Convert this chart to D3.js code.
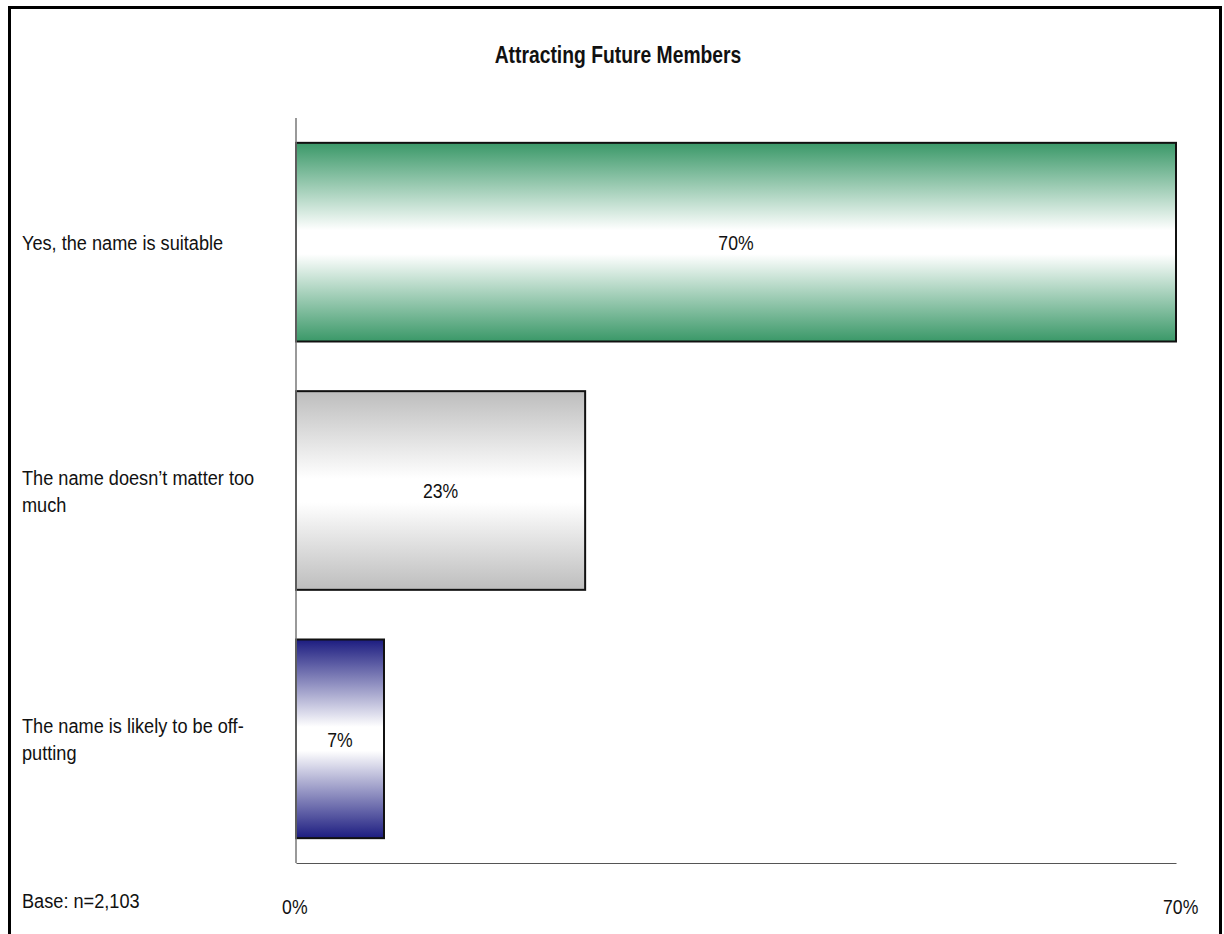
<!DOCTYPE html>
<html>
<head>
<meta charset="utf-8">
<script src="https://cdn.jsdelivr.net/npm/d3@7"></script>
<style>
  html, body { margin: 0; padding: 0; background: #fff; }
  svg { display: block; }
  text { font-family: "Liberation Sans Narrow", "Arial Narrow", "Liberation Sans", Arial, sans-serif; fill: #111; }
</style>
</head>
<body>
<svg id="chart" width="1224" height="934"></svg>
<script>
// Survey responses
const categories = [
  "Yes, the name is suitable",
  "The name doesn\u2019t matter too much",
  "The name is likely to be off-putting"
];
// Wrapped label lines per category
const categoryLines = [
  ["Yes, the name is suitable"],
  ["The name doesn\u2019t matter too", "much"],
  ["The name is likely to be off-", "putting"]
];
const values = [70, 23, 7];
const barColors = ["#3a9868", "#bdbdbd", "#1c1c80"];
const tickValues = [0, 70];
const title = "Attracting Future Members";
const baseNote = "Base: n=2,103";

const svg = d3.select("#chart");
const W = 1224, H = 934;
const SQUEEZE = 0.84; // condensed look for the text

// Horizontally condense a text element around its anchor x
function narrow(sel, ax, k = SQUEEZE) {
  sel.attr("transform", `translate(${ax},0) scale(${k},1) translate(${-ax},0)`);
}

// Outer frame (open at the bottom edge of the page)
svg.append("path")
  .attr("d", `M9.5,${H + 5} V7.5 H1220.5 V${H + 5}`)
  .attr("fill", "none")
  .attr("stroke", "#000")
  .attr("stroke-width", 3);

const plot = { left: 296, right: 1176, top: 118, bottom: 863 };

const x = d3.scaleLinear().domain([0, 70]).range([plot.left, plot.right]);
const y = d3.scaleBand()
  .domain(categories)
  .range([plot.top, plot.bottom])
  .paddingInner(0.2)
  .paddingOuter(0.1);

// Vertical gradients: dark edges fading to white in the middle
const defs = svg.append("defs");
barColors.forEach((c, i) => {
  const g = defs.append("linearGradient")
    .attr("id", "grad" + i)
    .attr("x1", 0).attr("y1", 0).attr("x2", 0).attr("y2", 1);
  g.append("stop").attr("offset", "0%").attr("stop-color", c);
  g.append("stop").attr("offset", "44%").attr("stop-color", "#ffffff");
  g.append("stop").attr("offset", "56%").attr("stop-color", "#ffffff");
  g.append("stop").attr("offset", "100%").attr("stop-color", c);
});

// Title
svg.append("text")
  .attr("x", 618)
  .attr("y", 63)
  .attr("text-anchor", "middle")
  .attr("font-size", 23)
  .attr("font-weight", "bold")
  .call(narrow, 618)
  .text(title);

// Bars
const data = categories.map((c, i) => ({ cat: c, v: values[i], i }));
svg.append("g").selectAll("rect")
  .data(data)
  .join("rect")
  .attr("x", x(0))
  .attr("y", d => y(d.cat))
  .attr("width", d => x(d.v) - x(0))
  .attr("height", y.bandwidth())
  .attr("fill", d => `url(#grad${d.i})`)
  .attr("stroke", "#111")
  .attr("stroke-width", 2);

// Value labels
svg.append("g").selectAll("text")
  .data(data)
  .join("text")
  .attr("x", d => (x(0) + x(d.v)) / 2)
  .attr("y", d => y(d.cat) + y.bandwidth() / 2 + 8)
  .attr("text-anchor", "middle")
  .attr("font-size", 21)
  .each(function (d) { narrow(d3.select(this), (x(0) + x(d.v)) / 2); })
  .text(d => d.v + "%");

// Category axis labels (left aligned, wrapped)
const lineH = 27;
svg.append("g").selectAll("text")
  .data(data)
  .join("text")
  .attr("font-size", 21)
  .call(narrow, 22, 0.865)
  .each(function (d) {
    const lines = categoryLines[d.i];
    const cy = y(d.cat) + y.bandwidth() / 2;
    const first = cy + 8 - (lines.length - 1) * lineH / 2;
    d3.select(this).selectAll("tspan")
      .data(lines)
      .join("tspan")
      .attr("x", 22)
      .attr("y", (l, k) => first + k * lineH)
      .text(l => l);
  });

// Value axis line
svg.append("line")
  .attr("x1", plot.left).attr("x2", plot.left)
  .attr("y1", plot.top).attr("y2", plot.bottom)
  .attr("stroke", "#777").attr("stroke-width", 1.5);

const xAxis = d3.axisBottom(x)
  .tickValues(tickValues)
  .tickSize(0)
  .tickPadding(36)
  .tickFormat(d => d + "%");
const gx = svg.append("g")
  .attr("transform", `translate(0,${plot.bottom})`)
  .call(xAxis);
gx.select(".domain").attr("stroke", "#555").attr("stroke-width", 1.2);
gx.selectAll(".tick text")
  .attr("font-size", 21)
  .attr("font-family", null)
  .attr("fill", "#111")
  .attr("dx", (d, i) => i === 0 ? -2 : 5)
  .attr("transform", `scale(${SQUEEZE},1)`);

// Base note
svg.append("text")
  .attr("x", 22)
  .attr("y", 908)
  .attr("font-size", 21)
  .call(narrow, 22, 0.865)
  .text(baseNote);
</script>
</body>
</html>
